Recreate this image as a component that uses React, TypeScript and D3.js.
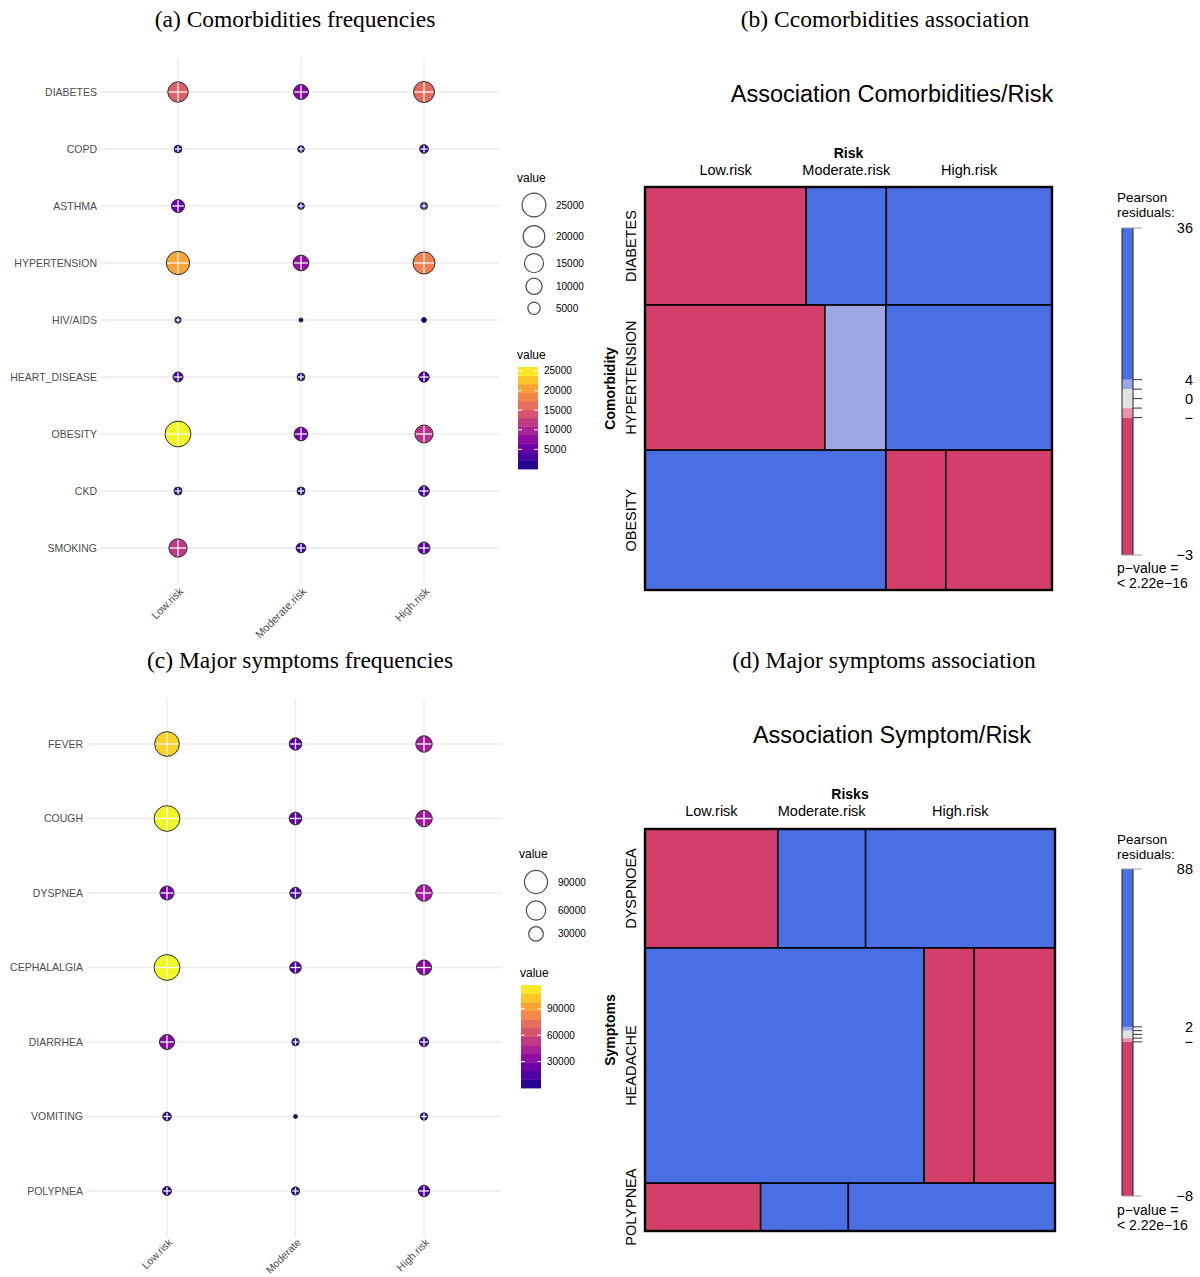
import React from "react";
import * as d3 from "d3";

// ---------------- data ----------------
// (a) comorbidities frequencies
const comorbRisks = ["Low.risk", "Moderate.risk", "High.risk"];
const comorbidities = ["DIABETES", "COPD", "ASTHMA", "HYPERTENSION", "HIV/AIDS", "HEART_DISEASE", "OBESITY", "CKD", "SMOKING"];
const comorbLow = [17500, 1270, 5800, 23800, 630, 2830, 30000, 1440, 13500];
const comorbModerate = [8300, 790, 800, 9300, 60, 1270, 6600, 1440, 2600];
const comorbHigh = [18700, 1870, 920, 20800, 230, 3160, 13000, 3420, 4700];
const comorbSizeLegend = [25000, 20000, 15000, 10000, 5000];
const comorbColorLegend = [25000, 20000, 15000, 10000, 5000];

// (c) symptoms frequencies
const symptomRisks = ["Low.risk", "Moderate", "High.risk"];
const symptoms = ["FEVER", "COUGH", "DYSPNEA", "CEPHALALGIA", "DIARRHEA", "VOMITING", "POLYPNEA"];
const symptomLow = [105000, 115000, 27200, 116000, 32400, 7100, 8100];
const symptomModerate = [19900, 20700, 15900, 16700, 4400, 200, 5600];
const symptomHigh = [40400, 40400, 40400, 32400, 9200, 4400, 15900];
const symptomSizeLegend = [90000, 60000, 30000];
const symptomColorLegend = [90000, 60000, 30000];

// (b) mosaic comorbidity / risk
const mosaicRisks = ["Low.risk", "Moderate.risk", "High.risk"];
const mosaicComorbRows = ["DIABETES", "HYPERTENSION", "OBESITY"];
const mosaicComorbRowShare = [0.293, 0.36, 0.347];
const mosaicComorbLowShare = [0.396, 0.442, 0.592];
const mosaicComorbModShare = [0.197, 0.15, 0.147];
const mosaicComorbHighShare = [0.407, 0.408, 0.261];
const mosaicComorbResLow = [-18, -12, 36];
const mosaicComorbResMod = [9, 3, -7];
const mosaicComorbResHigh = [14, 11, -33];
const mosaicComorbTickValues = [36, 4, 0, -4, -33];
const mosaicComorbTickTexts = ["36", "4", "0", "\u2212", "\u22123"];

// (d) mosaic symptoms / risk
const mosaicSymptomRows = ["DYSPNOEA", "HEADACHE", "POLYPNEA"];
const mosaicSymptomRowShare = [0.296, 0.585, 0.119];
const mosaicSymptomLowShare = [0.324, 0.681, 0.282];
const mosaicSymptomModShare = [0.214, 0.122, 0.214];
const mosaicSymptomHighShare = [0.462, 0.197, 0.504];
const mosaicSymptomResLow = [-40, 88, -20];
const mosaicSymptomResMod = [25, -30, 6];
const mosaicSymptomResHigh = [30, -86, 12];
const mosaicSymptomTickValues = [88, 4, -4, -86];
const mosaicSymptomTickTexts = ["88", "2", "\u2212", "\u22128"];

// ---------------- styles ----------------
const SANS = "'Liberation Sans', Arial, Helvetica, sans-serif";
const SERIF = "'Liberation Serif', 'Times New Roman', serif";
const GRID = "#ebebeb";
const AXIS_TXT = "#4d4d4d";

type BubbleProps = {
  cats: string[];
  risks: string[];
  series: number[][];
  xRange: [number, number];
  yRange: [number, number];
  gridX: [number, number];
  gridY: [number, number];
  labelX: number;
  xLabelDy: number;
  xLabelSize: number;
  sizeLegend: number[];
  sizeLegendX: number;
  sizeTitleY: number;
  sizeFirstY: number;
  colorLegend: number[];
  colorBarX: number;
  colorBarTop: number;
  colorBarBottom: number;
  colorBarMax: number;
  colorTitleY: number;
};

function BubblePanel(p: BubbleProps) {
  const x = d3.scalePoint<string>().domain(p.risks).range(p.xRange);
  const y = d3.scalePoint<string>().domain(p.cats).range(p.yRange);
  const vmax = d3.max(p.series.flat()) as number;
  const size = d3.scaleSqrt().domain([0, vmax]).range([1.5, 12.9]);
  const color = d3.scaleSequential(d3.interpolatePlasma).domain([0, vmax]);

  const keyH = (v: number) => Math.max(22, 4 * size(v) - 14);
  const centers: number[] = [];
  p.sizeLegend.forEach((v, i) => {
    if (i === 0) centers.push(p.sizeFirstY);
    else centers.push(centers[i - 1] + (keyH(p.sizeLegend[i - 1]) + keyH(v)) / 2);
  });

  const barW = 20;
  const barScale = d3.scaleLinear().domain([0, p.colorBarMax]).range([p.colorBarBottom, p.colorBarTop]);
  const nSteps = 12;
  const stepH = (p.colorBarBottom - p.colorBarTop) / nSteps;

  return (
    <g>
      {p.cats.map((c) => (
        <line key={"h" + c} x1={p.gridX[0]} x2={p.gridX[1]} y1={y(c)} y2={y(c)} stroke={GRID} strokeWidth={1.3} />
      ))}
      {p.risks.map((r) => (
        <line key={"v" + r} x1={x(r)} x2={x(r)} y1={p.gridY[0]} y2={p.gridY[1]} stroke={GRID} strokeWidth={1.3} />
      ))}
      {p.cats.map((c) => (
        <text key={"yl" + c} x={p.labelX} y={y(c)} dy="0.35em" textAnchor="end" fontFamily={SANS} fontSize={10.5} fill={AXIS_TXT}>
          {c}
        </text>
      ))}
      {p.risks.map((r) => (
        <text
          key={"xl" + r}
          transform={`translate(${(x(r) as number) + 6},${p.gridY[1] + p.xLabelDy}) rotate(-45)`}
          textAnchor="end"
          fontFamily={SANS}
          fontSize={p.xLabelSize}
          fill={AXIS_TXT}
        >
          {r}
        </text>
      ))}
      {p.cats.map((c, i) =>
        p.risks.map((r, j) => {
          const v = p.series[j][i];
          const cx = x(r) as number;
          const cy = y(c) as number;
          const rr = size(v);
          return (
            <g key={c + r}>
              <circle cx={cx} cy={cy} r={rr} fill={color(v)} stroke="#2b2b2b" strokeWidth={1} />
              {rr > 2.5 && (
                <g stroke="#f6f6f6" strokeWidth={1.3}>
                  <line x1={cx - rr + 0.8} x2={cx + rr - 0.8} y1={cy} y2={cy} />
                  <line x1={cx} x2={cx} y1={cy - rr + 0.8} y2={cy + rr - 0.8} />
                </g>
              )}
            </g>
          );
        })
      )}

      {/* size legend */}
      <text x={p.sizeLegendX - 17} y={p.sizeTitleY} fontFamily={SANS} fontSize={12} fill="#000">
        value
      </text>
      {p.sizeLegend.map((v, i) => (
        <g key={"sl" + v}>
          <circle cx={p.sizeLegendX} cy={centers[i]} r={size(v)} fill="#fff" stroke="#4d4d4d" strokeWidth={1.2} />
          <text x={p.sizeLegendX + 22} y={centers[i]} dy="0.35em" fontFamily={SANS} fontSize={10} fill="#000">
            {v}
          </text>
        </g>
      ))}

      {/* colour legend */}
      <text x={p.colorBarX - 1} y={p.colorTitleY} fontFamily={SANS} fontSize={12} fill="#000">
        value
      </text>
      {d3.range(nSteps).map((k) => (
        <rect
          key={"cb" + k}
          x={p.colorBarX}
          y={p.colorBarBottom - (k + 1) * stepH}
          width={barW}
          height={stepH + 0.4}
          fill={d3.interpolatePlasma((k + 0.5) / nSteps)}
        />
      ))}
      {p.colorLegend.map((v) => (
        <g key={"cl" + v}>
          <line x1={p.colorBarX} x2={p.colorBarX + 4} y1={barScale(v)} y2={barScale(v)} stroke="#fff" strokeWidth={1} />
          <line x1={p.colorBarX + barW - 4} x2={p.colorBarX + barW} y1={barScale(v)} y2={barScale(v)} stroke="#fff" strokeWidth={1} />
          <text x={p.colorBarX + barW + 6} y={barScale(v)} dy="0.35em" fontFamily={SANS} fontSize={10} fill="#000">
            {v}
          </text>
        </g>
      ))}
    </g>
  );
}

type MosaicProps = {
  title: string;
  titleY: number;
  header: string;
  headerY: number;
  colLabelY: number;
  side: string;
  rows: string[];
  rowShare: number[];
  shares: number[][];
  res: number[][];
  risks: string[];
  box: { x0: number; x1: number; y0: number; y1: number };
  legendTop: number;
  legendBottom: number;
  pearsonY: number;
  pvalY: number;
  tickValues: number[];
  tickTexts: string[];
};

const shade = d3
  .scaleThreshold<number, string>()
  .domain([-4, -2, 2, 4])
  .range(["#D33F6A", "#E495A5", "#E2E2E2", "#9DA8E2", "#4A6FE3"]);

function MosaicPanel(p: MosaicProps) {
  const { box } = p;
  const yS = d3.scaleLinear().domain([0, 1]).range([box.y0, box.y1]);
  const xS = d3.scaleLinear().domain([0, 1]).range([box.x0, box.x1]);
  const rowCum = [0, ...Array.from(d3.cumsum(p.rowShare))];
  const rowTot = rowCum[rowCum.length - 1];
  const tiles: { key: string; x: number; y: number; w: number; h: number; fill: string }[] = [];
  const firstRowCenters: number[] = [];
  p.rows.forEach((row, i) => {
    const widths = p.shares.map((s) => s[i]);
    const cum = [0, ...Array.from(d3.cumsum(widths))];
    const tot = cum[cum.length - 1];
    p.risks.forEach((r, j) => {
      const xa = xS(cum[j] / tot);
      const xb = xS(cum[j + 1] / tot);
      if (i === 0) firstRowCenters.push((xa + xb) / 2);
      tiles.push({
        key: row + r,
        x: xa,
        y: yS(rowCum[i] / rowTot),
        w: xb - xa,
        h: yS(rowCum[i + 1] / rowTot) - yS(rowCum[i] / rowTot),
        fill: shade(p.res[j][i]),
      });
    });
  });
  const allRes = p.res.flat();
  const [rmin, rmax] = d3.extent(allRes) as [number, number];
  const lg = d3.scaleLinear().domain([rmin, rmax]).range([p.legendBottom, p.legendTop]);
  const bounds = [rmin, -4, -2, 2, 4, rmax];
  const barX = 1122;
  const barW = 11;
  const midX = (box.x0 + box.x1) / 2;
  const midY = (box.y0 + box.y1) / 2;

  return (
    <g>
      <text x={892} y={p.titleY} textAnchor="middle" fontFamily={SANS} fontSize={23.5} fill="#000">
        {p.title}
      </text>
      <text x={midX} y={p.headerY} textAnchor="middle" fontFamily={SANS} fontSize={14} fontWeight="bold" fill="#000">
        {p.header}
      </text>
      {p.risks.map((r, j) => (
        <text key={"cl" + r} x={firstRowCenters[j]} y={p.colLabelY} textAnchor="middle" fontFamily={SANS} fontSize={14.5} fill="#000">
          {r}
        </text>
      ))}
      {p.rows.map((row, i) => {
        const cy = (yS(rowCum[i] / rowTot) + yS(rowCum[i + 1] / rowTot)) / 2;
        return (
          <text
            key={"rl" + row}
            transform={`translate(${box.x0 - 9},${cy}) rotate(-90)`}
            textAnchor="middle"
            fontFamily={SANS}
            fontSize={14.5}
            fill="#000"
          >
            {row}
          </text>
        );
      })}
      <text
        transform={`translate(${box.x0 - 30},${midY}) rotate(-90)`}
        textAnchor="middle"
        fontFamily={SANS}
        fontSize={14}
        fontWeight="bold"
        fill="#000"
      >
        {p.side}
      </text>
      {tiles.map((t) => (
        <rect key={t.key} x={t.x} y={t.y} width={t.w} height={t.h} fill={t.fill} stroke="#000" strokeWidth={1.5} />
      ))}
      <rect x={box.x0} y={box.y0} width={box.x1 - box.x0} height={box.y1 - box.y0} fill="none" stroke="#000" strokeWidth={2.4} />

      {/* legend */}
      <text x={1117} y={p.pearsonY - 1} fontFamily={SANS} fontSize={13.5} fill="#000">
        Pearson
      </text>
      <text x={1117} y={p.pearsonY + 14} fontFamily={SANS} fontSize={13.5} fill="#000">
        residuals:
      </text>
      {bounds.slice(0, -1).map((b, k) => (
        <rect
          key={"lb" + k}
          x={barX}
          y={lg(bounds[k + 1])}
          width={barW}
          height={lg(b) - lg(bounds[k + 1])}
          fill={shade((b + bounds[k + 1]) / 2)}
        />
      ))}
      <line x1={barX} x2={barX} y1={p.legendTop} y2={p.legendBottom} stroke="#222" strokeWidth={1} />
      <line x1={barX + barW} x2={barX + barW} y1={p.legendTop} y2={p.legendBottom} stroke="#222" strokeWidth={1} />
      {[rmax, rmin].map((v, k) => (
        <line key={"et" + k} x1={barX} x2={barX + 20} y1={lg(v)} y2={lg(v)} stroke="#999" strokeWidth={1} />
      ))}
      {[-4, -2, 0, 2, 4].map((v) => (
        <line key={"tk" + v} x1={barX + barW} x2={barX + barW + 9} y1={lg(v)} y2={lg(v)} stroke="#333" strokeWidth={1} />
      ))}
      {p.tickValues.map((v, k) => (
        <text key={"tt" + k} x={1193} y={lg(v)} dy="0.35em" textAnchor="end" fontFamily={SANS} fontSize={14.5} fill="#000">
          {p.tickTexts[k]}
        </text>
      ))}
      <text x={1117} y={p.pvalY} fontFamily={SANS} fontSize={14} fill="#000">
        p{"\u2212"}value =
      </text>
      <text x={1117} y={p.pvalY + 15} fontFamily={SANS} fontSize={14} fill="#000">
        {"< 2.22e\u221216"}
      </text>
    </g>
  );
}

export default function App() {
  return (
    <svg
      width={1200}
      height={1277}
      viewBox="0 0 1200 1277"
      style={{ position: "absolute", left: 0, top: 0, display: "block", background: "#fff" }}
    >
      <rect x={0} y={0} width={1200} height={1277} fill="#fff" />
      <g fontFamily={SERIF} fontSize={23.5} fill="#000" textAnchor="middle">
        <text x={295} y={27}>(a) Comorbidities frequencies</text>
        <text x={885} y={27}>(b) Ccomorbidities association</text>
        <text x={300} y={668}>(c) Major symptoms frequencies</text>
        <text x={884} y={668}>(d) Major symptoms association</text>
      </g>

      <BubblePanel
        cats={comorbidities}
        risks={comorbRisks}
        series={[comorbLow, comorbModerate, comorbHigh]}
        xRange={[178, 424]}
        yRange={[92, 548]}
        gridX={[100, 499]}
        gridY={[58, 583]}
        labelX={97}
        xLabelDy={9}
        xLabelSize={11}
        sizeLegend={comorbSizeLegend}
        sizeLegendX={534}
        sizeTitleY={182}
        sizeFirstY={205}
        colorLegend={comorbColorLegend}
        colorBarX={518}
        colorBarTop={367}
        colorBarBottom={469}
        colorBarMax={26000}
        colorTitleY={359}
      />

      <BubblePanel
        cats={symptoms}
        risks={symptomRisks}
        series={[symptomLow, symptomModerate, symptomHigh]}
        xRange={[167, 424]}
        yRange={[744, 1191]}
        gridX={[87, 502]}
        gridY={[699, 1237]}
        labelX={83}
        xLabelDy={6}
        xLabelSize={10.5}
        sizeLegend={symptomSizeLegend}
        sizeLegendX={536}
        sizeTitleY={858}
        sizeFirstY={882}
        colorLegend={symptomColorLegend}
        colorBarX={521}
        colorBarTop={985}
        colorBarBottom={1088}
        colorBarMax={117000}
        colorTitleY={977}
      />

      <MosaicPanel
        title="Association Comorbidities/Risk"
        titleY={102}
        header="Risk"
        headerY={158}
        colLabelY={175}
        side="Comorbidity"
        rows={mosaicComorbRows}
        rowShare={mosaicComorbRowShare}
        shares={[mosaicComorbLowShare, mosaicComorbModShare, mosaicComorbHighShare]}
        res={[mosaicComorbResLow, mosaicComorbResMod, mosaicComorbResHigh]}
        risks={mosaicRisks}
        box={{ x0: 645, x1: 1052, y0: 187, y1: 590 }}
        legendTop={228}
        legendBottom={555}
        pearsonY={203}
        pvalY={573}
        tickValues={mosaicComorbTickValues}
        tickTexts={mosaicComorbTickTexts}
      />

      <MosaicPanel
        title="Association Symptom/Risk"
        titleY={743}
        header="Risks"
        headerY={799}
        colLabelY={816}
        side="Symptoms"
        rows={mosaicSymptomRows}
        rowShare={mosaicSymptomRowShare}
        shares={[mosaicSymptomLowShare, mosaicSymptomModShare, mosaicSymptomHighShare]}
        res={[mosaicSymptomResLow, mosaicSymptomResMod, mosaicSymptomResHigh]}
        risks={mosaicRisks}
        box={{ x0: 645, x1: 1055, y0: 829, y1: 1231 }}
        legendTop={869}
        legendBottom={1196}
        pearsonY={845}
        pvalY={1215}
        tickValues={mosaicSymptomTickValues}
        tickTexts={mosaicSymptomTickTexts}
      />
    </svg>
  );
}
